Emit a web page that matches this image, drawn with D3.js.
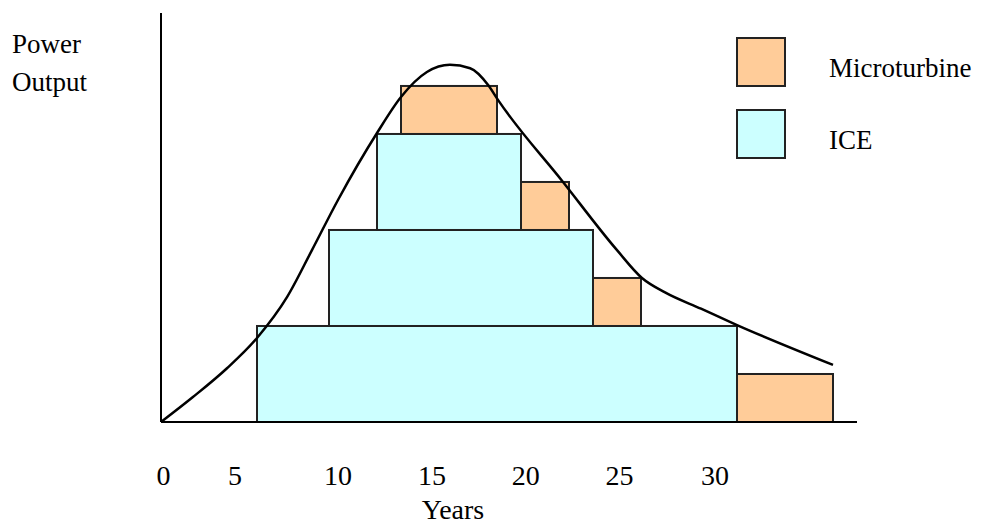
<!DOCTYPE html>
<html>
<head>
<meta charset="utf-8">
<script src="https://cdn.jsdelivr.net/npm/d3@7"></script>
<style>
  html, body { margin: 0; padding: 0; background: #fff; }
  svg { display: block; }
  text { font-family: "Liberation Serif", "Times New Roman", serif; fill: #000; }
</style>
</head>
<body>
<svg id="chart" width="999" height="524"></svg>
<script>
// ---- data (chart units: x in grid steps, y in capacity units) ----
const iceBlocks = [
  { x0: 4, x1: 24, y0: 0, y1: 2 },
  { x0: 7, x1: 18, y0: 2, y1: 4 },
  { x0: 9, x1: 15, y0: 4, y1: 6 }
];
const microBlocks = [
  { x0: 10, x1: 14, y0: 6, y1: 7 },
  { x0: 15, x1: 17, y0: 4, y1: 5 },
  { x0: 18, x1: 20, y0: 2, y1: 3 },
  { x0: 24, x1: 28, y0: 0, y1: 1 }
];
const curveX = [0, 1.33, 2.75, 4.0, 5.25, 6.29, 7.38, 9.0, 10.0, 11.08, 12.04, 12.88, 13.63, 14.04, 16.75, 19.0, 20.04, 21.0, 22.5, 24.0, 28.0];
const curveY = [0, 0.52, 1.12, 1.75, 2.6, 3.58, 4.63, 6.02, 6.77, 7.29, 7.44, 7.37, 7.02, 6.71, 5.0, 3.58, 3.0, 2.7, 2.36, 2.02, 1.19];
const tickLabels = ["0", "5", "10", "15", "20", "25", "30"];
const tickPos = [0.1, 3.08, 7.375, 11.29, 15.2, 19.1, 23.08];
const legendNames = ["Microturbine", "ICE"];
const legendColors = ["#FFCC99", "#CCFFFF"];

// ---- scales ----
const x = d3.scaleLinear().domain([0, 29]).range([161, 857]);
const y = d3.scaleLinear().domain([0, 8.52]).range([422, 13]);

const svg = d3.select("#chart");

// blocks
function drawBlocks(data, color) {
  svg.append("g").selectAll("rect").data(data).join("rect")
    .attr("x", d => x(d.x0))
    .attr("y", d => y(d.y1))
    .attr("width", d => x(d.x1) - x(d.x0))
    .attr("height", d => y(d.y0) - y(d.y1))
    .attr("fill", color)
    .attr("stroke", "#222")
    .attr("stroke-width", 2);
}
drawBlocks(iceBlocks, legendColors[1]);
drawBlocks(microBlocks, legendColors[0]);

// curve
const pts = curveX.map((v, i) => [v, curveY[i]]);
svg.append("path")
  .datum(pts)
  .attr("fill", "none")
  .attr("stroke", "#000")
  .attr("stroke-width", 2.5)
  .attr("d", d3.line().x(d => x(d[0])).y(d => y(d[1])).curve(d3.curveMonotoneX));

// axes lines
svg.append("line").attr("x1", x(0)).attr("x2", x(0)).attr("y1", y(8.52)).attr("y2", y(0))
  .attr("stroke", "#000").attr("stroke-width", 2);
svg.append("line").attr("x1", x(0)).attr("x2", x(29)).attr("y1", y(0)).attr("y2", y(0))
  .attr("stroke", "#000").attr("stroke-width", 2);

// tick labels
svg.append("g").selectAll("text").data(tickLabels).join("text")
  .attr("x", (d, i) => x(tickPos[i]))
  .attr("y", 485)
  .attr("text-anchor", "middle")
  .attr("font-size", 28)
  .text(d => d);

// axis titles
svg.append("text").attr("x", 453).attr("y", 519).attr("text-anchor", "middle")
  .attr("font-size", 28).text("Years");
svg.append("text").attr("x", 12).attr("y", 53).attr("font-size", 27).text("Power");
svg.append("text").attr("x", 12).attr("y", 91).attr("font-size", 27).text("Output");

// legend
const leg = svg.append("g");
legendNames.forEach((name, i) => {
  const top = 38 + i * 72;
  leg.append("rect").attr("x", 737).attr("y", top).attr("width", 48).attr("height", 48)
    .attr("fill", legendColors[i]).attr("stroke", "#222").attr("stroke-width", 2);
  leg.append("text").attr("x", 829).attr("y", top + 39).attr("font-size", 27).text(name);
});
</script>
</body>
</html>
